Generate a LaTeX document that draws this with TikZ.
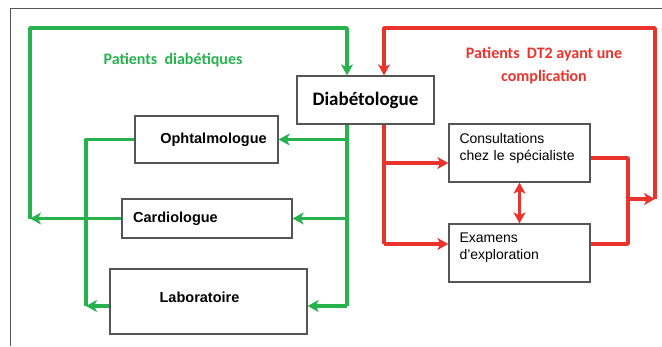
\documentclass[tikz,border=0pt]{standalone}
\usepackage{fontspec}
\setmainfont{Liberation Sans}
\newfontfamily\calibfont{Carlito}
\usetikzlibrary{arrows.meta, positioning}
\definecolor{medgreen}{RGB}{38,178,76}
\definecolor{medred}{RGB}{234,51,45}
\definecolor{framegray}{RGB}{85,85,85}

\begin{document}
\begin{tikzpicture}[x=1pt, y=-1pt,
    unit/.style={draw=framegray, line width=1.3pt, inner sep=0pt,
                 font=\bfseries\fontsize{14.5}{17}\selectfont},
    hub/.style={draw=framegray, line width=1.3pt, inner sep=0pt,
                minimum width=137pt, minimum height=48pt,
                font=\calibfont\bfseries\fontsize{19}{23}\selectfont},
    spec/.style={draw=framegray, line width=1.3pt, inner sep=0pt,
                 minimum width=141pt, minimum height=58pt, text width=120pt,
                 align=left, text depth=30pt, font=\fontsize{14}{17}\selectfont},
    note/.style={align=center, font=\calibfont\bfseries\fontsize{16}{23}\selectfont},
    gline/.style={draw=medgreen, line width=3.6pt, line join=round},
    glink/.style={gline, -{Stealth[length=11pt, width=12pt, inset=3pt]}},
    rline/.style={draw=medred, line width=3.6pt, line join=round},
    rlink/.style={rline, -{Stealth[length=11pt, width=12pt, inset=3pt]}}
  ]
    \useasboundingbox (0,0) rectangle (662,346);
    \draw[framegray, line width=1pt] (10,346) -- (10,8) -- (662,8);

    \node[hub] (diab) at (365.5,100) {Diabétologue};
    \node[unit, minimum width=143pt, minimum height=47pt] (oph) at (206.5,139.5) {\hspace*{14pt}Ophtalmologue};
    \node[unit, minimum width=170pt, minimum height=39pt] (card) at (207,218.5) {Cardiologue\hspace*{63pt}};
    \node[unit, minimum width=197pt, minimum height=65pt, text depth=9pt] (labo) at (208.5,301.5) {Laboratoire\hspace*{18pt}};
    \node[spec] (cons) at (519.5,153) {Consultations\\chez le spécialiste};
    \node[spec] (exam) at (519.5,253) {Examens\\d'exploration};

    \node[note, text=medgreen] (gnote) at (173,60) {Patients~ diabétiques};
    \node[note, text=medred] (rnote) at (544,66) {Patients~ DT2 ayant une\\complication};

    \coordinate (gtl) at (30,28);
    \coordinate (gtr) at (347,28);
    \coordinate (gbot) at (347,306);
    \coordinate (gleft) at (86,306);
    \coordinate (rtl) at (384,28);
    \coordinate (rtr) at (655,28);
    \coordinate (rside) at (655,199);
    \coordinate (rjoin) at (628,199);
    \coordinate (rout) at (628,158);
    \coordinate (rcons) at (384,163);
    \coordinate (rbot) at (384,244);

    % green loop
    \draw[glink] (card.west) -- (gtl |- card.west);
    \draw[glink] (gtl |- card.west) -- (gtl) -- (gtr) -- (gtr |- diab.north);
    \draw[gline] (gtr |- diab.south) -- (gbot);
    \draw[glink] (gtr |- oph.east) -- (oph.east);
    \draw[glink] (gtr |- card.east) -- (card.east);
    \draw[glink] (gbot) -- (gbot -| labo.east);
    \draw[gline] (oph.west) -| (gleft);
    \draw[glink] (gleft -| labo.west) -- (gleft);

    % red loop
    \draw[rline] (rtl |- diab.south) -- (rbot);
    \draw[rlink] (rcons) -- (rcons -| cons.west);
    \draw[rlink] (rbot) -- (rbot -| exam.west);
    \draw[rline] (rout -| cons.east) -- (rout) -- (rjoin |- rbot) -- (rbot -| exam.east);
    \draw[rlink] (rjoin) -- (rside);
    \draw[rlink] (rside) -- (rtr) -- (rtl) -- (rtl |- diab.north);
    \draw[rline, {Stealth[length=11pt, width=12pt, inset=3pt]}-{Stealth[length=11pt, width=12pt, inset=3pt]}] (cons.south) -- (exam.north);
  \end{tikzpicture}
\end{document}
